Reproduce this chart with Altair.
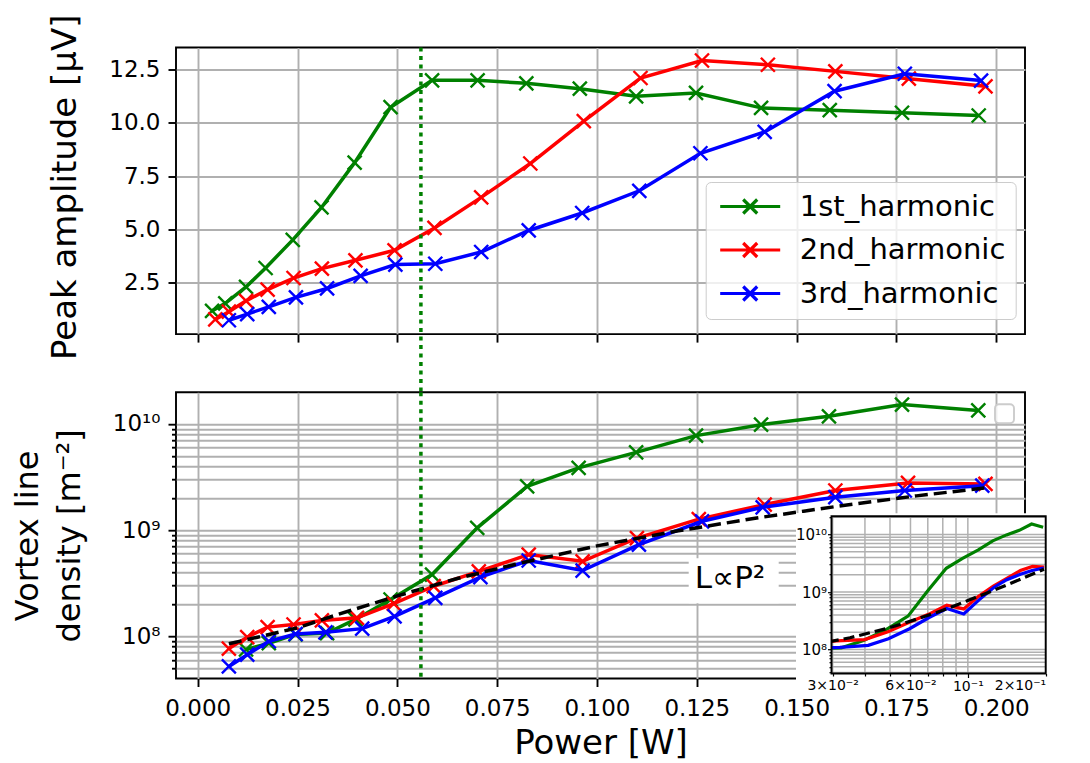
import altair as alt
import pandas as pd

# ---------------- data ----------------
series_names = ["1st_harmonic", "2nd_harmonic", "3rd_harmonic"]
series_colors = ["#008000", "#ff0000", "#0000ff"]

# top panel: peak amplitude [uV] vs power [W]
top_p1 = [0.0036, 0.0069, 0.0121, 0.0170, 0.0238, 0.0310, 0.0393, 0.0483, 0.0587, 0.0701,
          0.0823, 0.0957, 0.1098, 0.1248, 0.1411, 0.1583, 0.1764, 0.1956]
top_a1 = [1.19, 1.54, 2.31, 3.20, 4.52, 6.04, 8.14, 10.74, 12.00, 12.00,
          11.86, 11.61, 11.25, 11.41, 10.71, 10.60, 10.48, 10.35]
top_p2 = [0.0044, 0.0078, 0.0121, 0.0175, 0.0240, 0.0311, 0.0395, 0.0493, 0.0593, 0.0710,
          0.0833, 0.0967, 0.1109, 0.1263, 0.1428, 0.1597, 0.1781, 0.1973]
top_a2 = [0.79, 1.15, 1.66, 2.19, 2.73, 3.17, 3.56, 4.03, 5.08, 6.51,
          8.10, 10.09, 12.11, 12.93, 12.73, 12.42, 12.08, 11.72]
top_p3 = [0.0078, 0.0124, 0.0178, 0.0246, 0.0324, 0.0408, 0.0495, 0.0595, 0.0710, 0.0829,
          0.0963, 0.1106, 0.1259, 0.1420, 0.1595, 0.1771, 0.1962]
top_a3 = [0.75, 1.04, 1.38, 1.82, 2.24, 2.83, 3.36, 3.40, 3.95, 4.96,
          5.78, 6.82, 8.58, 9.58, 11.49, 12.31, 11.99]

# bottom panel: vortex line density [m^-2] vs power [W]
bot_p1 = [0.0121, 0.0178, 0.0245, 0.0324, 0.0395, 0.0483, 0.0587, 0.0700, 0.0825, 0.0954,
          0.1098, 0.1248, 0.1411, 0.1581, 0.1764, 0.1955]
bot_l1 = [7.5e7, 8.6e7, 1.04e8, 1.07e8, 1.44e8, 2.22e8, 3.81e8, 1.05e9, 2.58e9, 3.85e9,
          5.4e9, 7.76e9, 9.84e9, 1.18e10, 1.52e10, 1.34e10]
bot_p2 = [0.0078, 0.0124, 0.0175, 0.0240, 0.0311, 0.0399, 0.0491, 0.0591, 0.0704, 0.0829,
          0.0964, 0.1100, 0.1255, 0.1420, 0.1597, 0.1779, 0.1973]
bot_l2 = [7.66e7, 9.8e7, 1.22e8, 1.29e8, 1.41e8, 1.49e8, 2.03e8, 2.96e8, 4.09e8, 5.88e8,
          5.08e8, 8.4e8, 1.27e9, 1.74e9, 2.36e9, 2.78e9, 2.72e9]
bot_p3 = [0.0078, 0.0124, 0.0178, 0.0245, 0.0320, 0.0412, 0.0493, 0.0595, 0.0708, 0.0829,
          0.0964, 0.1105, 0.1263, 0.1415, 0.1597, 0.1771, 0.1965]
bot_l3 = [5.2e7, 6.7e7, 8.97e7, 1.05e8, 1.09e8, 1.18e8, 1.54e8, 2.3e8, 3.6e8, 5.17e8,
          4.16e8, 7.3e8, 1.21e9, 1.64e9, 2.04e9, 2.36e9, 2.62e9]

# dashed L ~ P^2 guide
fit_p = [0.0078, 0.015, 0.025, 0.035, 0.05, 0.065, 0.08, 0.1, 0.12, 0.14, 0.16, 0.18, 0.197]
fit_l = [8.5e7, 9.8e7, 1.2e8, 1.6e8, 2.4e8, 3.5e8, 4.8e8, 7.1e8, 9.8e8, 1.3e9, 1.67e9, 2.1e9, 2.49e9]

threshold_power = [0.0559]

x_ticks = [0.0, 0.025, 0.05, 0.075, 0.1, 0.125, 0.15, 0.175, 0.2]
top_y_ticks = [2.5, 5.0, 7.5, 10.0, 12.5]
log_ticks = [5e7, 6e7, 7e7, 8e7, 9e7,
             1e8, 2e8, 3e8, 4e8, 5e8, 6e8, 7e8, 8e8, 9e8,
             1e9, 2e9, 3e9, 4e9, 5e9, 6e9, 7e9, 8e9, 9e9, 1e10]
inset_x_ticks = [0.03, 0.04, 0.05, 0.06, 0.07, 0.08, 0.09, 0.1, 0.2]
inset_y_ticks = [4e7, 5e7, 6e7, 7e7, 8e7, 9e7,
                 1e8, 2e8, 3e8, 4e8, 5e8, 6e8, 7e8, 8e8, 9e8,
                 1e9, 2e9, 3e9, 4e9, 5e9, 6e9, 7e9, 8e9, 9e9, 1e10, 2e10]

# ---------------- layout constants ----------------
FONT = "DejaVu Sans"
W = 849
H_TOP = 286.6
H_BOT = 286.3
GAP = 57.7
X_PATH = "M-1,-1L1,1M-1,1L1,-1"
LEG_PATH = "M-1,0L5,0M1.3,-0.7L2.7,0.7M1.3,0.7L2.7,-0.7"

# inset geometry (pixels relative to the bottom plot origin)
IX0, IX1 = 655.5, 869.7
IY0, IY1 = 281.3, 124.0

def frame(p, v, name, yname):
    return pd.DataFrame({"P": p, yname: v, "series": name})

top_dfs = [frame(top_p1, top_a1, series_names[0], "A"),
           frame(top_p2, top_a2, series_names[1], "A"),
           frame(top_p3, top_a3, series_names[2], "A")]
bot_dfs = [frame(bot_p1, bot_l1, series_names[0], "L"),
           frame(bot_p2, bot_l2, series_names[1], "L"),
           frame(bot_p3, bot_l3, series_names[2], "L")]
fit_df = pd.DataFrame({"P": fit_p, "L": fit_l})
thr_df = pd.DataFrame({"P": threshold_power})
one = pd.DataFrame({"k": [0]})

x_dom = [-0.00544, 0.2072]

color_scale = alt.Scale(domain=series_names, range=series_colors)
legend = alt.Legend(
    title=None, orient="none", legendX=529.7, legendY=134.5,
    symbolType=LEG_PATH, symbolSize=400, symbolStrokeWidth=3.2, symbolOpacity=1,
    labelFont=FONT, labelFontSize=29, labelColor="black", labelOffset=55, labelLimit=500,
    rowPadding=13.5, padding=10, fillColor="rgba(255,255,255,0.8)", strokeColor="#cccccc",
    cornerRadius=5,
)

# ---------------- top panel ----------------
x_top = alt.X("P:Q", scale=alt.Scale(domain=x_dom, nice=False, zero=False),
              axis=alt.Axis(values=x_ticks, labels=False, title=None, grid=True, tickSize=8))
y_top = alt.Y("A:Q", scale=alt.Scale(domain=[0.1, 13.54], nice=False, zero=False),
              axis=alt.Axis(values=top_y_ticks, format=".1f", title="Peak amplitude [µV]",
                            titleX=-101, titleY=H_TOP / 2 - 4, titleAngle=270, titleAlign="center",
                            titleBaseline="alphabetic", titleFontSize=34, tickSize=8, grid=True))
c_enc = alt.Color("series:N", scale=color_scale, legend=legend)

top_layers = []
for df in top_dfs:
    base = alt.Chart(df).encode(x=x_top, y=y_top, color=c_enc)
    top_layers.append(base.mark_line(strokeWidth=3.5))
    top_layers.append(base.mark_point(shape=X_PATH, size=196, filled=False, strokeWidth=2.4, opacity=1))
top_layers.append(
    alt.Chart(thr_df).mark_rule(color="#008000", strokeWidth=3.5, strokeDash=[4, 4.5]).encode(
        x=alt.X("P:Q"), y=alt.value(0), y2=alt.value(H_TOP + GAP))
)
top = alt.layer(*top_layers).properties(width=W, height=H_TOP)

# ---------------- bottom panel (main) ----------------
log_major = "datum.value == 1e8 || datum.value == 1e9 || datum.value == 1e10"
x_bot = alt.X("P:Q", scale=alt.Scale(domain=x_dom, nice=False, zero=False),
              axis=alt.Axis(values=x_ticks, format=".3f", title="Power [W]", grid=True,
                            tickSize=8, labelPadding=11, titlePadding=6, titleFontSize=34))
y_bot = alt.Y("L:Q", scale=alt.Scale(type="log", domain=[4.0e7, 1.99e10], nice=False),
              axis=alt.Axis(values=log_ticks, grid=True,
                            labelExpr="datum.value == 1e8 ? '10⁸' : datum.value == 1e9 ? '10⁹' : datum.value == 1e10 ? '10¹⁰' : ''",
                            tickSize={"condition": {"test": log_major, "value": 8}, "value": 4.5},
                            title=["Vortex line", "density [m⁻²]"], titleX=-139, titleY=H_BOT / 2,
                            titleAngle=270, titleAlign="center", titleBaseline="alphabetic",
                            titleLineHeight=42, titleFontSize=32))
main_layers = []
for df in bot_dfs:
    base = alt.Chart(df).encode(x=x_bot, y=y_bot, color=alt.Color("series:N", scale=color_scale, legend=None))
    main_layers.append(base.mark_line(strokeWidth=3.5))
    main_layers.append(base.mark_point(shape=X_PATH, size=196, filled=False, strokeWidth=2.4, opacity=1))
main_layers.append(
    alt.Chart(fit_df).mark_line(color="black", strokeWidth=3.5, strokeDash=[13, 6]).encode(x=x_bot, y=y_bot)
)
main_layers.append(
    alt.Chart(thr_df).mark_rule(color="#008000", strokeWidth=3.5, strokeDash=[4, 4.5]).encode(
        x=alt.X("P:Q"), y=alt.value(0), y2=alt.value(H_BOT))
)
# annotation box + text
main_layers.append(
    alt.Chart(one).mark_rect(fill="white").encode(
        x=alt.value(512.7), x2=alt.value(602.7), y=alt.value(166), y2=alt.value(211))
)
main_layers.append(
    alt.Chart(one).mark_text(text="L∝P²", font=FONT, fontSize=31, color="black",
                             align="center", baseline="alphabetic").encode(
        x=alt.value(554), y=alt.value(196))
)
# empty legend box (upper right)
main_layers.append(
    alt.Chart(one).mark_rect(fill="white", fillOpacity=0.8, stroke="#cccccc", strokeWidth=1.9,
                             cornerRadius=4).encode(
        x=alt.value(819), x2=alt.value(838), y=alt.value(12), y2=alt.value(31))
)
main = alt.layer(*main_layers)

# ---------------- inset (log-log) ----------------
ins = [df[df["P"] >= 0.02] for df in bot_dfs]
fit_ins = fit_df[fit_df["P"] >= 0.02]
ix_scale = alt.Scale(type="log", domain=[0.0297, 0.2], range=[IX0, IX1], nice=False)
iy_scale = alt.Scale(type="log", domain=[3.83e7, 2.08e10], range=[IY0, IY1], nice=False)
ix_axis = alt.Axis(orient="bottom", offset=-(H_BOT - IY0), values=inset_x_ticks, grid=False,
                   domain=False, zindex=1, title=None, labelFontSize=14, labelPadding=2,
                   tickSize={"condition": {"test": "datum.value == 0.1", "value": 4}, "value": 2.5},
                   tickWidth=1.2,
                   labelExpr="datum.value == 0.03 ? '3×10⁻²' : datum.value == 0.06 ? '6×10⁻²' : datum.value == 0.1 ? '10⁻¹' : datum.value == 0.2 ? '2×10⁻¹' : ''")
iy_axis = alt.Axis(orient="left", offset=-IX0, values=inset_y_ticks, grid=False,
                   domain=False, zindex=1, title=None, labelFontSize=15, labelPadding=1,
                   tickSize={"condition": {"test": log_major, "value": 4}, "value": 2.5},
                   tickWidth=1.2,
                   labelExpr="datum.value == 1e8 ? '10⁸' : datum.value == 1e9 ? '10⁹' : datum.value == 1e10 ? '10¹⁰' : ''")
ixe = alt.X("P:Q", scale=ix_scale, axis=ix_axis)
iye = alt.Y("L:Q", scale=iy_scale, axis=iy_axis)

gx_df = pd.DataFrame({"P": inset_x_ticks})
gy_df = pd.DataFrame({"L": inset_y_ticks})

inset_layers = [
    alt.Chart(one).mark_rect(fill="white").encode(
        x=alt.value(620), x2=alt.value(913), y=alt.value(121), y2=alt.value(296)),
    alt.Chart(gx_df).mark_rule(color="#b0b0b0", strokeWidth=1.5).encode(
        x=ixe, y=alt.value(IY1), y2=alt.value(IY0)),
    alt.Chart(gy_df).mark_rule(color="#b0b0b0", strokeWidth=1.5).encode(
        y=iye, x=alt.value(IX0), x2=alt.value(IX1)),
]
for df in ins:
    inset_layers.append(
        alt.Chart(df).mark_line(strokeWidth=3.2).encode(
            x=ixe, y=iye, color=alt.Color("series:N", scale=color_scale, legend=None))
    )
inset_layers.append(
    alt.Chart(fit_ins).mark_line(color="black", strokeWidth=3.2, strokeDash=[11, 5]).encode(x=ixe, y=iye)
)
inset_layers.append(
    alt.Chart(one).mark_rect(fill="white").encode(
        x=alt.value(620), x2=alt.value(IX0), y=alt.value(121), y2=alt.value(296))
)
inset_layers.append(
    alt.Chart(one).mark_rect(fill=None, stroke="black", strokeWidth=1.9).encode(
        x=alt.value(IX0), x2=alt.value(IX1), y=alt.value(IY1), y2=alt.value(IY0))
)
inset = alt.layer(*inset_layers)

bottom = alt.layer(main, inset).resolve_scale(x="independent", y="independent").properties(
    width=W, height=H_BOT)

chart = alt.vconcat(top, bottom, spacing=GAP, bounds="flush").properties(
    padding={"left": 10, "top": 12.5, "right": 0, "bottom": 0}
).configure_view(
    stroke="black", strokeWidth=1.9
).configure_axis(
    gridColor="#b0b0b0", gridWidth=1.9, gridOpacity=1, tickColor="black", tickWidth=1.9,
    domain=False, labelFont=FONT, labelFontSize=23, labelColor="black", labelPadding=8,
    titleFont=FONT, titleFontSize=32, titleColor="black", titleFontWeight="normal",
)

chart.save("out.html", embed_options={"renderer": "svg", "actions": False})
